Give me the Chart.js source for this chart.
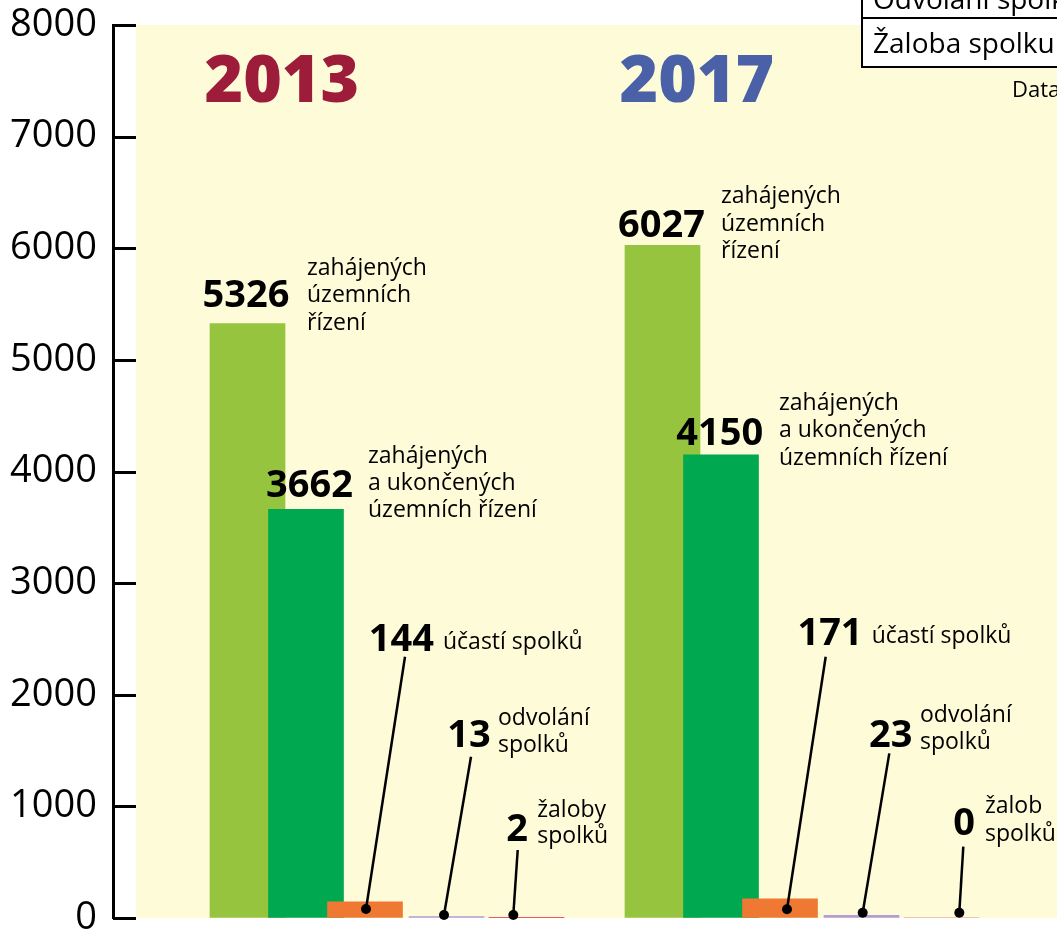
<!DOCTYPE html>
<html>
<head>
<meta charset="utf-8">
<script src="https://cdn.jsdelivr.net/npm/chart.js@4.4.1/dist/chart.umd.min.js"></script>
<style>
  html, body { margin: 0; padding: 0; background: #fff; }
  canvas { display: block; }
</style>
</head>
<body>
<canvas id="graf" width="1057" height="933"></canvas>
<script>
// data z grafu
const roky = ['2013', '2017'];
const zahajenych = [5326, 6027];
const ukoncenych = [3662, 4150];
const ucasti = [144, 171];
const odvolani = [13, 23];
const zaloby = [2, 0];
const yTicks = [0, 1000, 2000, 3000, 4000, 5000, 6000, 7000, 8000];

const popisky = [
  [['zahájených', 'územních', 'řízení'], ['zahájených', 'územních', 'řízení']],
  [['zahájených', 'a ukončených', 'územních řízení'], ['zahájených', 'a ukončených', 'územních řízení']],
  [['účastí spolků'], ['účastí spolků']],
  [['odvolání', 'spolků'], ['odvolání', 'spolků']],
  [['žaloby', 'spolků'], ['žalob', 'spolků']]
];

// posun sloupce v ramci roku (v jednotkach osy x, 1 = vzdalenost mezi roky)
const serie = [
  { name: 'zahájená územní řízení', data: zahajenych, color: '#97c43f', posun: 0 },
  { name: 'zahájená a ukončená územní řízení', data: ukoncenych, color: '#00a84f', posun: 58.5 / 415 },
  { name: 'účasti spolků', data: ucasti, color: '#ef7932', posun: 117.5 / 415 },
  { name: 'odvolání spolků', data: odvolani, color: '#b59dd1', posun: 199 / 415 },
  { name: 'žaloby spolků', data: zaloby, color: '#e8203a', posun: 279 / 415 }
];

// rozlozeni popisku vuci sloupci: v = cislo, t = text, l = odkazova cara
const rozlozeni = [
  [{ v: [-1.5, -16.5], t: [59.5, -48.5, 27.5] }, { v: [-1, -8.3], t: [58.5, -42.3, 27.7] }],
  [{ v: [3.5, -12.5], t: [62, -46.5, 27.3] }, { v: [-1.3, -9.8], t: [58, -44.8, 27.5] }],
  [{ v: [36.4, -251.2], t: [78, -252.9, 27], l: [40, -245.2, 1, 7.1] },
   { v: [50, -253.9], t: [91.7, -255.9, 27], l: [45.7, -242.2, 7, 10.4] }],
  [{ v: [22.5, -169.2], t: [51.5, -191.5, 26.7], l: [24.5, -159.8, -2.5, -1.5] },
   { v: [29.3, -168.7], t: [58.5, -193.7, 27.6], l: [27.8, -162.1, 1.2, -2.7] }],
  [{ v: [-9.3, -76.8], t: [10.8, -100.5, 26], l: [-8.8, -67.8, -13.2, -2.8] },
   { v: [22.7, -83], t: [43.5, -104.7, 27.7], l: [21.8, -71.3, 17.8, -5.3] }]
];

const barvyRoku = ['#9c1c3a', '#4a61a7'];
const FONT = '"Open Sans", "DejaVu Sans", sans-serif';

const datasets = serie.map((s, k) => ({
  label: s.name,
  data: roky.map((r, i) => ({ x: i + s.posun, y: s.data[i] })),
  backgroundColor: s.color,
  borderWidth: 0,
  barThickness: 75,
  grouped: false,
  order: serie.length - k
}));

const pozadi = {
  id: 'pozadi',
  beforeDraw(chart) {
    const { ctx, chartArea } = chart;
    ctx.save();
    ctx.fillStyle = '#fff';
    ctx.fillRect(0, 0, chart.width, chart.height);
    ctx.fillStyle = '#fefbd8';
    ctx.fillRect(chartArea.left + 23, chartArea.top, chartArea.right - chartArea.left - 23, chartArea.bottom - chartArea.top);
    ctx.restore();
  }
};

const popis = {
  id: 'popis',
  afterDraw(chart) {
    const { ctx, chartArea } = chart;
    const yScale = chart.scales.y;
    ctx.save();

    // carky osy y smerem doprava
    ctx.strokeStyle = '#000';
    ctx.lineWidth = 3;
    yScale.ticks.forEach(t => {
      const y = Math.round(yScale.getPixelForValue(t.value)) + 0.5;
      ctx.beginPath();
      ctx.moveTo(chartArea.left, y);
      ctx.lineTo(chartArea.left + 23, y);
      ctx.stroke();
    });

    // roky
    ctx.font = '800 66px ' + FONT;
    ctx.textAlign = 'left';
    ctx.textBaseline = 'alphabetic';
    roky.forEach((r, i) => {
      const bar = chart.getDatasetMeta(0).data[i];
      ctx.fillStyle = barvyRoku[i];
      ctx.fillText(r, bar.x - 43, chartArea.top + 77);
    });

    // hodnoty a popisky
    serie.forEach((s, k) => {
      const meta = chart.getDatasetMeta(k);
      roky.forEach((r, i) => {
        const bar = meta.data[i];
        const p = rozlozeni[k][i];
        ctx.fillStyle = '#000';
        ctx.font = 'bold 38px ' + FONT;
        ctx.textAlign = 'center';
        ctx.fillText(String(s.data[i]), bar.x + p.v[0], bar.y + p.v[1]);
        ctx.font = '23px ' + FONT;
        ctx.textAlign = 'left';
        popisky[k][i].forEach((line, j) => {
          ctx.fillText(line, bar.x + p.t[0], bar.y + p.t[1] + j * p.t[2]);
        });
        if (p.l) {
          ctx.strokeStyle = '#000';
          ctx.lineWidth = 2.5;
          ctx.beginPath();
          ctx.moveTo(bar.x + p.l[0], bar.y + p.l[1]);
          ctx.lineTo(bar.x + p.l[2], bar.y + p.l[3]);
          ctx.stroke();
          ctx.beginPath();
          ctx.arc(bar.x + p.l[2], bar.y + p.l[3], 5, 0, Math.PI * 2);
          ctx.fill();
        }
      });
    });

    // tabulka vpravo nahore (oriznuta)
    ctx.fillStyle = '#fff';
    ctx.fillRect(862, -40, 220, 107);
    ctx.strokeStyle = '#000';
    ctx.lineWidth = 2;
    ctx.strokeRect(862, -40, 220, 107);
    ctx.beginPath();
    ctx.moveTo(862, 18);
    ctx.lineTo(1082, 18);
    ctx.stroke();
    ctx.fillStyle = '#000';
    ctx.font = '28px ' + FONT;
    ctx.textAlign = 'left';
    ctx.fillText('Odvolání spolku', 873, 9);
    ctx.fillText('Žaloba spolku', 873, 53);
    ctx.font = '22px ' + FONT;
    ctx.fillText('Data', 1012, 97);
    ctx.restore();
  }
};

new Chart(document.getElementById('graf'), {
  type: 'bar',
  data: { datasets },
  options: {
    responsive: false,
    animation: false,
    devicePixelRatio: 1,
    layout: { padding: { top: 25, bottom: 15, left: 0, right: 0 } },
    plugins: { legend: { display: false }, tooltip: { enabled: false } },
    scales: {
      x: { type: 'linear', min: -0.3241, max: 1.9506, offset: false, display: false },
      y: {
        min: 0,
        max: 8000,
        afterBuildTicks: s => { s.ticks = yTicks.map(v => ({ value: v })); },
        afterFit: s => { s.width = 113; s.paddingTop = 0; s.paddingBottom = 0; },
        ticks: {
          color: '#000',
          padding: 16,
          font: { family: FONT, size: 38 },
          callback: v => String(v)
        },
        grid: { drawOnChartArea: false, drawTicks: false },
        border: { color: '#000', width: 3 }
      }
    }
  },
  plugins: [pozadi, popis]
});
</script>
</body>
</html>
